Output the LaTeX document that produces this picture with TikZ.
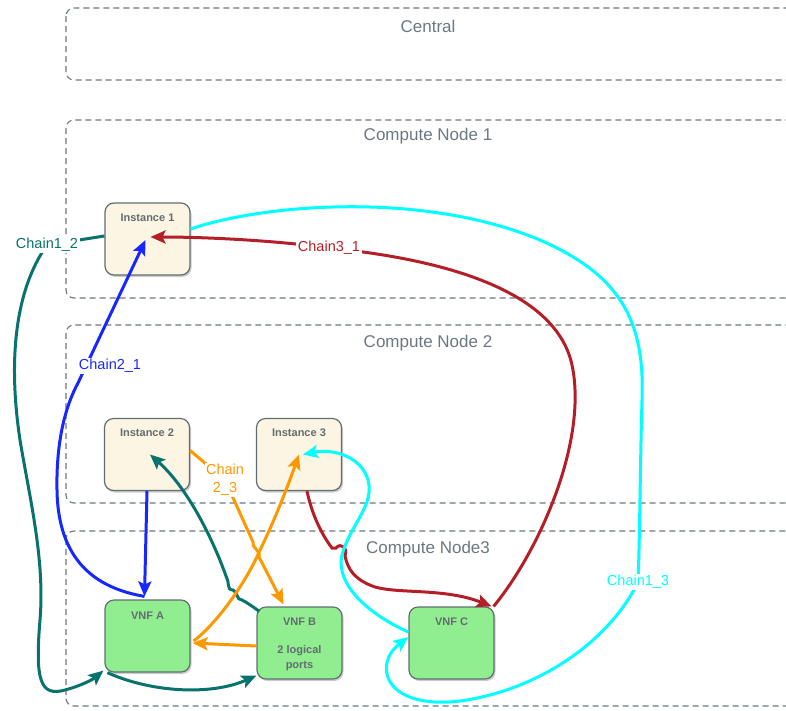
\documentclass[tikz,border=0pt]{standalone}
\usepackage{fontspec}
\setmainfont{Liberation Sans}
\usetikzlibrary{arrows.meta,shadows,calc}
\definecolor{zonegray}{RGB}{108,120,128}
\definecolor{boxline}{RGB}{96,110,114}
\definecolor{instfill}{RGB}{252,245,227}
\definecolor{vnffill}{RGB}{144,238,144}
\definecolor{ttlgray}{RGB}{100,108,112}
\definecolor{cteal}{RGB}{8,114,108}
\definecolor{cred}{RGB}{180,30,38}
\definecolor{cblue}{RGB}{22,40,255}
\definecolor{corange}{RGB}{255,152,0}
\definecolor{ccyan}{RGB}{0,255,255}
\begin{document}
\begin{tikzpicture}[x=1pt,y=-1pt,
  zone/.style={draw=zonegray, line width=1.1pt, dash pattern=on 6pt off 4pt, rounded corners=8pt},
  zonelabel/.style={text=zonegray, font=\fontsize{17}{20}\selectfont},
  box/.style={draw=boxline, line width=1.2pt, rounded corners=9pt, minimum width=85pt, minimum height=72pt,
    drop shadow={shadow xshift=1.5pt, shadow yshift=-2pt, opacity=0.4}},
  inst/.style={box, fill=instfill},
  vnf/.style={box, fill=vnffill},
  ttl/.style={text=ttlgray, font=\bfseries\fontsize{11}{15}\selectfont, align=center},
  conn/.style={line width=3pt, -{Stealth[length=15pt, width=13pt, inset=3pt]}},
  wire/.style={line width=3pt},
  chainlabel/.style={fill=white, inner sep=1.5pt, font=\fontsize{14.5}{18}\selectfont, align=center},
]
\useasboundingbox (0,0) rectangle (786,710);
\clip (0,0) rectangle (786,710);

% dashed zones
\draw[zone] (66,8) rectangle (810,80);
\draw[zone] (66,120) rectangle (810,298);
\draw[zone] (66,325) rectangle (810,503);
\draw[zone] (66,531) rectangle (810,706);
\node[zonelabel] (zc) at (428,26) {Central};
\node[zonelabel] (z1) at (428,136) {Compute Node 1};
\node[zonelabel] (z2) at (428,343) {Compute Node 2};
\node[zonelabel] (z3) at (428,549) {Compute Node3};

% instances and VNFs
\node[inst] (I1) at (147.5,239) {};
\node[inst] (I2) at (147,454.5) {};
\node[inst] (I3) at (299,454.5) {};
\node[vnf] (VA) at (147.5,636) {};
\node[vnf] (VB) at (299.5,643) {};
\node[vnf] (VC) at (451.5,643) {};
\node[ttl] (I1t) at ([yshift=-15pt]I1.north) {Instance 1};
\node[ttl] (I2t) at ([yshift=-15pt]I2.north) {Instance 2};
\node[ttl] (I3t) at ([yshift=-15pt]I3.north) {Instance 3};
\node[ttl] (VAt) at ([yshift=-16pt]VA.north) {VNF A};
\node[ttl] (VBt) at ([yshift=-15pt]VB.north) {VNF B};
\node[ttl] (VBp) at ([yshift=-52pt]VB.north) {2 logical\\ports};
\node[ttl] (VCt) at ([yshift=-15pt]VC.north) {VNF C};

% label positions
\coordinate (t12) at (47,245);
\coordinate (t21) at (110,366);
\coordinate (t31) at (329,248);
\coordinate (t23) at (225,480);
\coordinate (t13) at (638,582);

% Chain1_2
\draw[wire, color=cteal] ([yshift=3pt]I1.west) -- (t12);
\draw[conn, color=cteal] (t12) .. controls (15,290) and (8,360) .. (20,440)
  .. controls (30,500) and (45,560) .. (40,620)
  .. controls (35,680) and (40,697) .. (65,690)
  .. controls (80,686) and (92,680) .. ([xshift=-1pt,yshift=2pt]VA.south west);
\draw[conn, color=cteal] ([xshift=3pt]VA.south west) .. controls (150,692) and (210,696) .. ([yshift=4pt]VB.south west);
\draw[conn, color=cteal] ([xshift=3pt,yshift=-5pt]VB.north west) .. controls (252,606) and (246,602) .. (242,600)
  .. controls (236,600) and (238,592) .. (233,590)
  .. controls (226,590) and (230,582) .. (226,576)
  .. controls (215,545) and (190,490) .. ([xshift=3pt]I2.center);

% Chain2_1
\draw[conn, color=cblue] (I2.south) -- ([xshift=-3pt,yshift=3pt]VA.north);
\draw[conn, color=cblue] ([xshift=-3pt,yshift=3pt]VA.north) .. controls (95,588) and (58,560) .. (57,490)
  .. controls (56,440) and (66,405) .. (78,383) -- ([xshift=-2pt,yshift=-1pt]I1.center);

% Chain3_1
\draw[conn, color=cred] ([xshift=8pt]I3.south) .. controls (312,515) and (322,535) .. (332,548)
  -- (336,548) .. controls (341,542) and (348,548) .. (345,556)
  .. controls (348,570) and (355,580) .. (375,587)
  .. controls (400,594) and (445,588) .. ([xshift=-3pt]VC.north east);
\draw[conn, color=cred] ([xshift=-1pt]VC.north east) .. controls (540,550) and (588,440) .. (572,365)
  .. controls (558,300) and (470,262) .. (t31)
  .. controls (280,241) and (210,237) .. ([xshift=3pt,yshift=2pt]I1.center);

% Chain1_3
\draw[conn, color=ccyan] ([yshift=10pt]I1.east) .. controls (260,205) and (420,190) .. (540,240)
  .. controls (620,275) and (645,320) .. (642,400)
  .. controls (640,470) and (640,530) .. (t13)
  .. controls (610,640) and (540,690) .. (460,701)
  .. controls (385,710) and (372,665) .. ([yshift=6pt]VC.west);
\draw[conn, color=ccyan] ([yshift=11pt]VC.west) .. controls (370,615) and (335,585) .. (342,555)
  .. controls (350,525) and (375,505) .. (368,480)
  .. controls (362,458) and (335,448) .. ([xshift=4pt]I3.center);

% Chain 2_3
\draw[conn, color=corange] ([yshift=4pt]I2.east) -- (t23) -- (253,542)
  .. controls (252,549) and (261,550) .. (259,557) -- ([xshift=-16pt,yshift=2pt]VB.north);
\draw[conn, color=corange] ([yshift=-3pt]VB.west) -- ([xshift=2pt,yshift=-7pt]VA.east);
\draw[conn, color=corange] ([xshift=3pt,yshift=-5pt]VA.east) .. controls (215,625) and (245,585) .. (260,550)
  .. controls (275,520) and (290,480) .. (I3.center);

% chain labels
\node[chainlabel, text=cteal] (l12) at (t12) {Chain1\_2};
\node[chainlabel, text=cblue] (l21) at (t21) {Chain2\_1};
\node[chainlabel, text=cred] (l31) at (t31) {Chain3\_1};
\node[chainlabel, text=corange] (l23) at (t23) {Chain\\2\_3};
\node[chainlabel, text=ccyan] (l13) at (t13) {Chain1\_3};
\end{tikzpicture}
\end{document}
